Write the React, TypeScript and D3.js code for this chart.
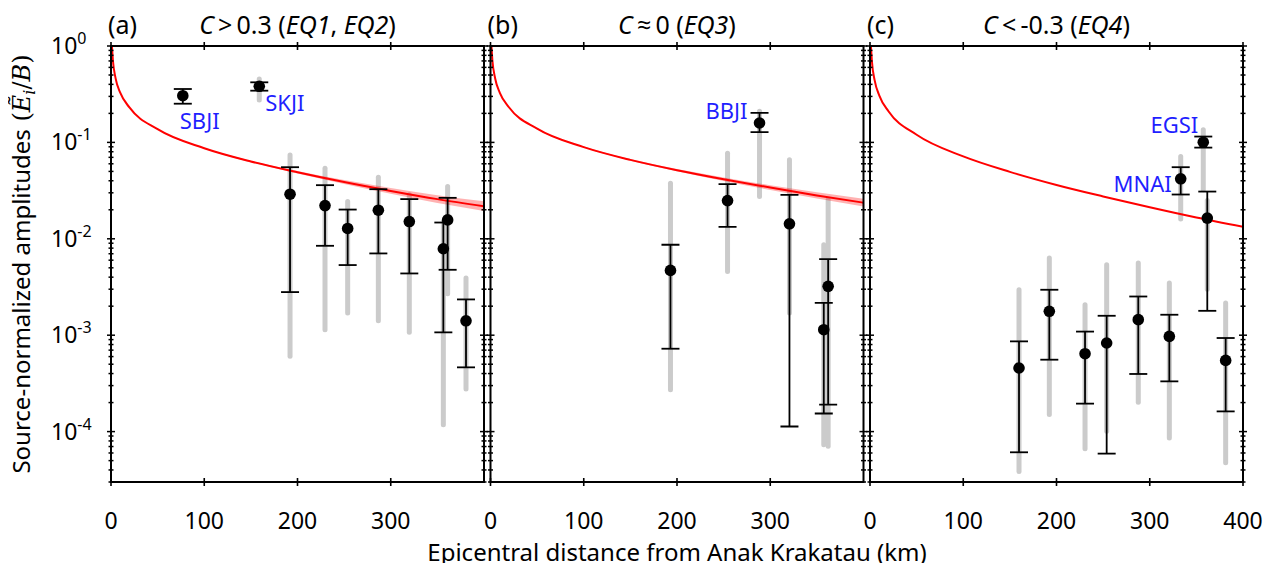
import React from "react";
import * as d3 from "d3";

// ---------- data ----------
const panelKeys = ["a", "b", "c"];
const panelTitles = [
  [["C", true], ["\u2009>\u20090.3 (", false], ["EQ1", true], [", ", false], ["EQ2", true], [")", false]],
  [["C", true], ["\u2009\u2248\u20090 (", false], ["EQ3", true], [")", false]],
  [["C", true], ["\u2009<\u2009-0.3 (", false], ["EQ4", true], [")", false]],
];
const xTicksAB = [0, 100, 200, 300];
const xTicksC = [0, 100, 200, 300, 400];
const yMajor = [1, 0.1, 0.01, 0.001, 0.0001];
const yExp = ["0", "-1", "-2", "-3", "-4"];

// panel (a)
const distA = [77, 159, 192, 229.5, 253.8, 286.7, 319.9, 356.4, 361, 380.7];
const ampA = [0.305, 0.382, 0.029, 0.0221, 0.0128, 0.0198, 0.0151, 0.00788, 0.0157, 0.00141];
const upA = [0.358, 0.42, 0.0553, 0.036, 0.0201, 0.0327, 0.0258, 0.01475, 0.0266, 0.00235];
const loA = [0.252, 0.344, 0.0028, 0.00846, 0.00534, 0.00705, 0.00437, 0.00107, 0.00477, 0.000464];
const grayTopA = [0.32, 0.455, 0.0742, 0.054, 0.0244, 0.0436, 0.0286, 0.015, 0.0348, 0.00392];
const grayBotA = [0.29, 0.276, 0.000603, 0.00114, 0.0017, 0.00141, 0.00107, 0.000118, 0.00269, 0.000277];
const nameA = ["SBJI", "SKJI", "", "", "", "", "", "", "", ""];

// panel (b)
const distB = [193, 254.2, 288.5, 320.6, 357.4, 362.1];
const ampB = [0.0047, 0.0249, 0.159, 0.0143, 0.00114, 0.00321];
const upB = [0.00867, 0.0369, 0.202, 0.0286, 0.00216, 0.00616];
const loB = [0.000724, 0.0133, 0.128, 0.000113, 0.000154, 0.00019];
const grayTopB = [0.0378, 0.0773, 0.21, 0.0659, 0.00867, 0.0254];
const grayBotB = [0.000272, 0.00458, 0.0274, 0.0017, 0.000073, 0.0000704];
const nameB = ["", "", "BBJI", "", "", ""];

// panel (c)
const distC = [159.8, 192.3, 230.6, 253.8, 287.7, 321, 333.2, 357.4, 361.7, 381.4];
const ampC = [0.000457, 0.00177, 0.000643, 0.00083, 0.00145, 0.000972, 0.0419, 0.1005, 0.0164, 0.000548];
const upC = [0.000863, 0.00296, 0.00109, 0.00159, 0.00252, 0.00163, 0.0553, 0.115, 0.0309, 0.000935];
const loC = [0.000061, 0.000557, 0.000195, 0.0000591, 0.000396, 0.000332, 0.0288, 0.0883, 0.00179, 0.000162];
const grayTopC = [0.00296, 0.00631, 0.00207, 0.00538, 0.0056, 0.00347, 0.0713, 0.135, 0.025, 0.00216];
const grayBotC = [0.0000385, 0.00015, 0.0000662, 0.000101, 0.000201, 0.000086, 0.016, 0.0322, 0.003, 0.0000474];
const nameC = ["", "", "", "", "", "", "MNAI", "EGSI", "", ""];

// model curves (attenuation fits)
const curveDist = [1, 2, 5, 10, 20, 50, 100, 150, 200, 250, 300, 350, 400];
const curveA = [0.998, 0.716, 0.459, 0.326, 0.229, 0.137, 0.087, 0.0634, 0.049, 0.0388, 0.0314, 0.0258, 0.0218];
const curveB = [0.998, 0.716, 0.46, 0.327, 0.23, 0.139, 0.0894, 0.0659, 0.0515, 0.0415, 0.034, 0.0282, 0.0237];
const curveC = [0.997, 0.703, 0.44, 0.306, 0.209, 0.12, 0.0716, 0.0495, 0.0362, 0.0275, 0.0212, 0.0166, 0.0133];
const bandA = [0, 0, 0, 0, 0, 0.003, 0.005, 0.008, 0.012, 0.02, 0.03, 0.04, 0.05];
const bandB = [0, 0, 0, 0, 0, 0.003, 0.005, 0.008, 0.012, 0.018, 0.025, 0.033, 0.04];
const bandC = [0, 0, 0, 0, 0, 0, 0, 0, 0, 0, 0, 0, 0];

// ---------- style / layout ----------
const W = 1272, H = 571;
const panelLeft = [111, 490.5, 870];
const panelW = 373;
const top = 46, bottom = 482;
const FONT = "'Noto Sans', 'Open Sans', sans-serif";
const SERIF = "'DejaVu Serif', 'Liberation Serif', serif";
const BLUE = "#1f1fff";
const GRAY = "#cbcbcb";
const labelPlace: Record<string, [number, number, string]> = {
  SBJI: [-3, 33, "start"],
  SKJI: [6, 25, "start"],
  BBJI: [-12, -4, "end"],
  MNAI: [-9, 13, "end"],
  EGSI: [-5, -9, "end"],
};

const panelsData = [
  { dist: distA, amp: ampA, up: upA, lo: loA, gt: grayTopA, gb: grayBotA, names: nameA, curve: curveA, band: bandA, xt: xTicksAB },
  { dist: distB, amp: ampB, up: upB, lo: loB, gt: grayTopB, gb: grayBotB, names: nameB, curve: curveB, band: bandB, xt: xTicksAB },
  { dist: distC, amp: ampC, up: upC, lo: loC, gt: grayTopC, gb: grayBotC, names: nameC, curve: curveC, band: bandC, xt: xTicksC },
];

const y = d3.scaleLog().domain([3e-5, 1]).range([bottom, top]);
const minorTicks: number[] = [];
for (let e = -5; e <= -1; e++) {
  for (let m = 2; m <= 9; m++) {
    const v = m * Math.pow(10, e);
    if (v >= 3e-5 && v <= 1) minorTicks.push(v);
  }
}

function Panel({ i }: { i: number }) {
  const p = panelsData[i];
  const x0 = panelLeft[i];
  const x = d3.scaleLinear().domain([0, 400]).range([x0, x0 + panelW]);
  const line = d3
    .line<number>()
    .x((_, k) => x(curveDist[k]))
    .y((v) => y(v))
    .curve(d3.curveMonotoneX);
  const area = d3
    .area<number>()
    .x((_, k) => x(curveDist[k]))
    .y0((v, k) => y(v * Math.pow(10, -p.band[k])))
    .y1((v, k) => y(v * Math.pow(10, p.band[k])))
    .curve(d3.curveMonotoneX);
  const clipId = "clip" + panelKeys[i];
  const cx = x0 + panelW / 2;
  return (
    <g>
      <defs>
        <clipPath id={clipId}>
          <rect x={x0} y={top} width={panelW} height={bottom - top} />
        </clipPath>
      </defs>
      <g clipPath={`url(#${clipId})`}>
        {p.dist.map((d, k) => (
          <line key={"g" + k} x1={x(d)} x2={x(d)} y1={y(p.gt[k])} y2={y(p.gb[k])}
            stroke={GRAY} strokeWidth={5} strokeLinecap="round" />
        ))}
        <path d={area(p.curve) || ""} fill="rgba(255,0,0,0.3)" stroke="none" />
        <path d={line(p.curve) || ""} fill="none" stroke="#ff0000" strokeWidth={2} />
        {p.dist.map((d, k) => (
          <g key={"e" + k} stroke="#000" strokeWidth={1.8}>
            <line x1={x(d)} x2={x(d)} y1={y(p.up[k])} y2={y(p.lo[k])} />
            <line x1={x(d) - 9} x2={x(d) + 9} y1={y(p.up[k])} y2={y(p.up[k])} />
            <line x1={x(d) - 9} x2={x(d) + 9} y1={y(p.lo[k])} y2={y(p.lo[k])} />
          </g>
        ))}
        {p.dist.map((d, k) => (
          <circle key={"c" + k} cx={x(d)} cy={y(p.amp[k])} r={5.8} fill="#000" />
        ))}
      </g>
      {p.names.map((n, k) =>
        n ? (
          <text key={"n" + k} x={x(p.dist[k]) + labelPlace[n][0]} y={y(p.amp[k]) + labelPlace[n][1]}
            textAnchor={labelPlace[n][2] as any} fill={BLUE} fontSize={22} fontFamily={FONT}>
            {n}
          </text>
        ) : null
      )}
      {/* frame */}
      <rect x={x0} y={top} width={panelW} height={bottom - top} fill="none" stroke="#000" strokeWidth={2} />
      {/* x ticks */}
      {p.xt.map((t) => (
        <g key={"xt" + t} stroke="#000" strokeWidth={1.6}>
          <line x1={x(t)} x2={x(t)} y1={top - 4} y2={top + 4} />
          <line x1={x(t)} x2={x(t)} y1={bottom - 4} y2={bottom + 4} />
        </g>
      ))}
      {p.xt.map((t) => (
        <text key={"xl" + t} x={x(t)} y={529} textAnchor="middle" fontSize={23} fontFamily={FONT} fill="#000">
          {t}
        </text>
      ))}
      {/* y ticks both sides */}
      {[x0, x0 + panelW].map((sx, s) => (
        <g key={"ys" + s} stroke="#000" strokeWidth={1.5}>
          {yMajor.map((v) => (
            <line key={"M" + v} x1={sx - 4} x2={sx + 4} y1={y(v)} y2={y(v)} />
          ))}
          {minorTicks.map((v) => (
            <line key={"m" + v} x1={sx - 2.5} x2={sx + 2.5} y1={y(v)} y2={y(v)} />
          ))}
        </g>
      ))}
      {/* titles */}
      <text x={x0 - 3} y={34} fontSize={25} fontFamily={FONT} fill="#000">
        ({panelKeys[i]})
      </text>
      <text x={cx} y={34} textAnchor="middle" fontSize={25} fontFamily={FONT} fill="#000">
        {panelTitles[i].map(([s, it], k) => (
          <tspan key={k} fontStyle={it ? "italic" : "normal"}>{s as string}</tspan>
        ))}
      </text>
    </g>
  );
}

export default function App() {
  return (
    <svg width={W} height={H} style={{ display: "block", margin: "-8px", background: "#fff" }}>
      <rect width={W} height={H} fill="#fff" />
      {panelKeys.map((_, i) => (
        <Panel key={i} i={i} />
      ))}
      {yMajor.map((v, k) => (
        <text key={"yl" + k} x={51} y={y(v) + 8} fontSize={23} fontFamily={FONT} fill="#000">
          10
          <tspan dy={-10} fontSize={16}>{yExp[k]}</tspan>
        </text>
      ))}
      <text x={677} y={561} textAnchor="middle" fontSize={24} fontFamily={FONT} fill="#000">
        Epicentral distance from Anak Krakatau (km)
      </text>
      <text transform={`translate(30,${(top + bottom) / 2}) rotate(-90)`} textAnchor="middle"
        fontSize={24} fontFamily={FONT} fill="#000">
        Source-normalized amplitudes
        <tspan fontFamily={SERIF}> (</tspan>
        <tspan fontFamily={SERIF} fontStyle="italic">{"E\u0303"}</tspan>
        <tspan fontFamily={SERIF} fontStyle="italic" fontSize={16} dy={5}>i</tspan>
        <tspan fontFamily={SERIF} dy={-5}>/</tspan>
        <tspan fontFamily={SERIF} fontStyle="italic">B</tspan>
        <tspan fontFamily={SERIF}>)</tspan>
      </text>
    </svg>
  );
}
